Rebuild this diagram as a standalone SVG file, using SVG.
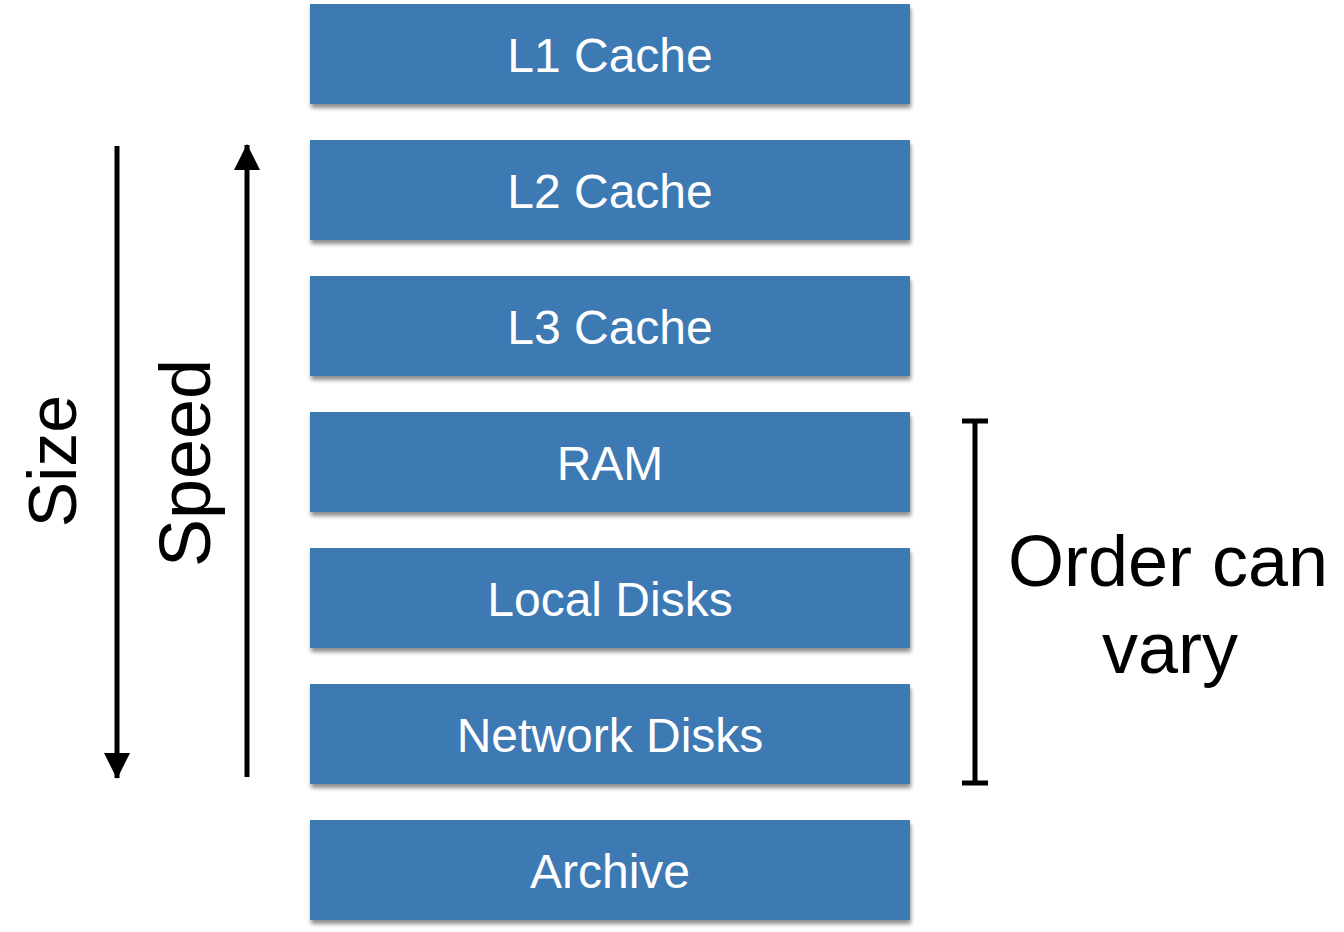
<svg xmlns="http://www.w3.org/2000/svg" width="1344" height="932" viewBox="0 0 1344 932">
<defs>
<filter id="shadow" x="-5%" y="-20%" width="110%" height="150%">
<feGaussianBlur in="SourceAlpha" stdDeviation="2"/>
<feOffset dx="1" dy="4" result="b"/>
<feComponentTransfer><feFuncA type="linear" slope="0.45"/></feComponentTransfer>
<feMerge><feMergeNode/><feMergeNode in="SourceGraphic"/></feMerge>
</filter>
<marker id="ah" markerWidth="26" markerHeight="26" viewBox="0 0 26 26" refX="25" refY="13" orient="auto" markerUnits="userSpaceOnUse">
<path d="M0,0 L26,13 L0,26 Z" fill="#000"/>
</marker>
</defs>
<style>
.box{fill:#3e79b2;filter:url(#shadow);}
.lbl{font-family:"Liberation Sans",Arial,sans-serif;font-size:48px;fill:#fff;text-anchor:middle;}
.big{font-family:"Liberation Sans",Arial,sans-serif;fill:#000;text-anchor:middle;}
.ln{stroke:#000;stroke-width:5;fill:none;}
</style>
<rect width="1344" height="932" fill="#fff"/>
<g id="l1"><rect class="box" x="310" y="4" width="600" height="100"/><text class="lbl" x="610" y="72">L1 Cache</text></g>
<g id="l2"><rect class="box" x="310" y="140" width="600" height="100"/><text class="lbl" x="610" y="208">L2 Cache</text></g>
<g id="l3"><rect class="box" x="310" y="276" width="600" height="100"/><text class="lbl" x="610" y="344">L3 Cache</text></g>
<g id="ram"><rect class="box" x="310" y="412" width="600" height="100"/><text class="lbl" x="610" y="480">RAM</text></g>
<g id="local"><rect class="box" x="310" y="548" width="600" height="100"/><text class="lbl" x="610" y="616">Local Disks</text></g>
<g id="network"><rect class="box" x="310" y="684" width="600" height="100"/><text class="lbl" x="610" y="752">Network Disks</text></g>
<g id="archive"><rect class="box" x="310" y="820" width="600" height="100"/><text class="lbl" x="610" y="888">Archive</text></g>
<g id="connectors">
<line class="ln" x1="117" y1="146" x2="117" y2="778" marker-end="url(#ah)"/>
<line class="ln" x1="247" y1="777" x2="247" y2="145" marker-end="url(#ah)"/>
<line class="ln" x1="975" y1="421" x2="975" y2="783"/>
<line class="ln" x1="962" y1="421" x2="988" y2="421"/>
<line class="ln" x1="962" y1="783" x2="988" y2="783"/>
</g>
<g id="labels">
<text class="big" font-size="68" transform="translate(76,461) rotate(-90)">Size</text>
<text class="big" font-size="72" transform="translate(210,463) rotate(-90)">Speed</text>
<text class="big" font-size="72" x="1168" y="586">Order can</text>
<text class="big" font-size="72" x="1170" y="673">vary</text>
</g>
</svg>
